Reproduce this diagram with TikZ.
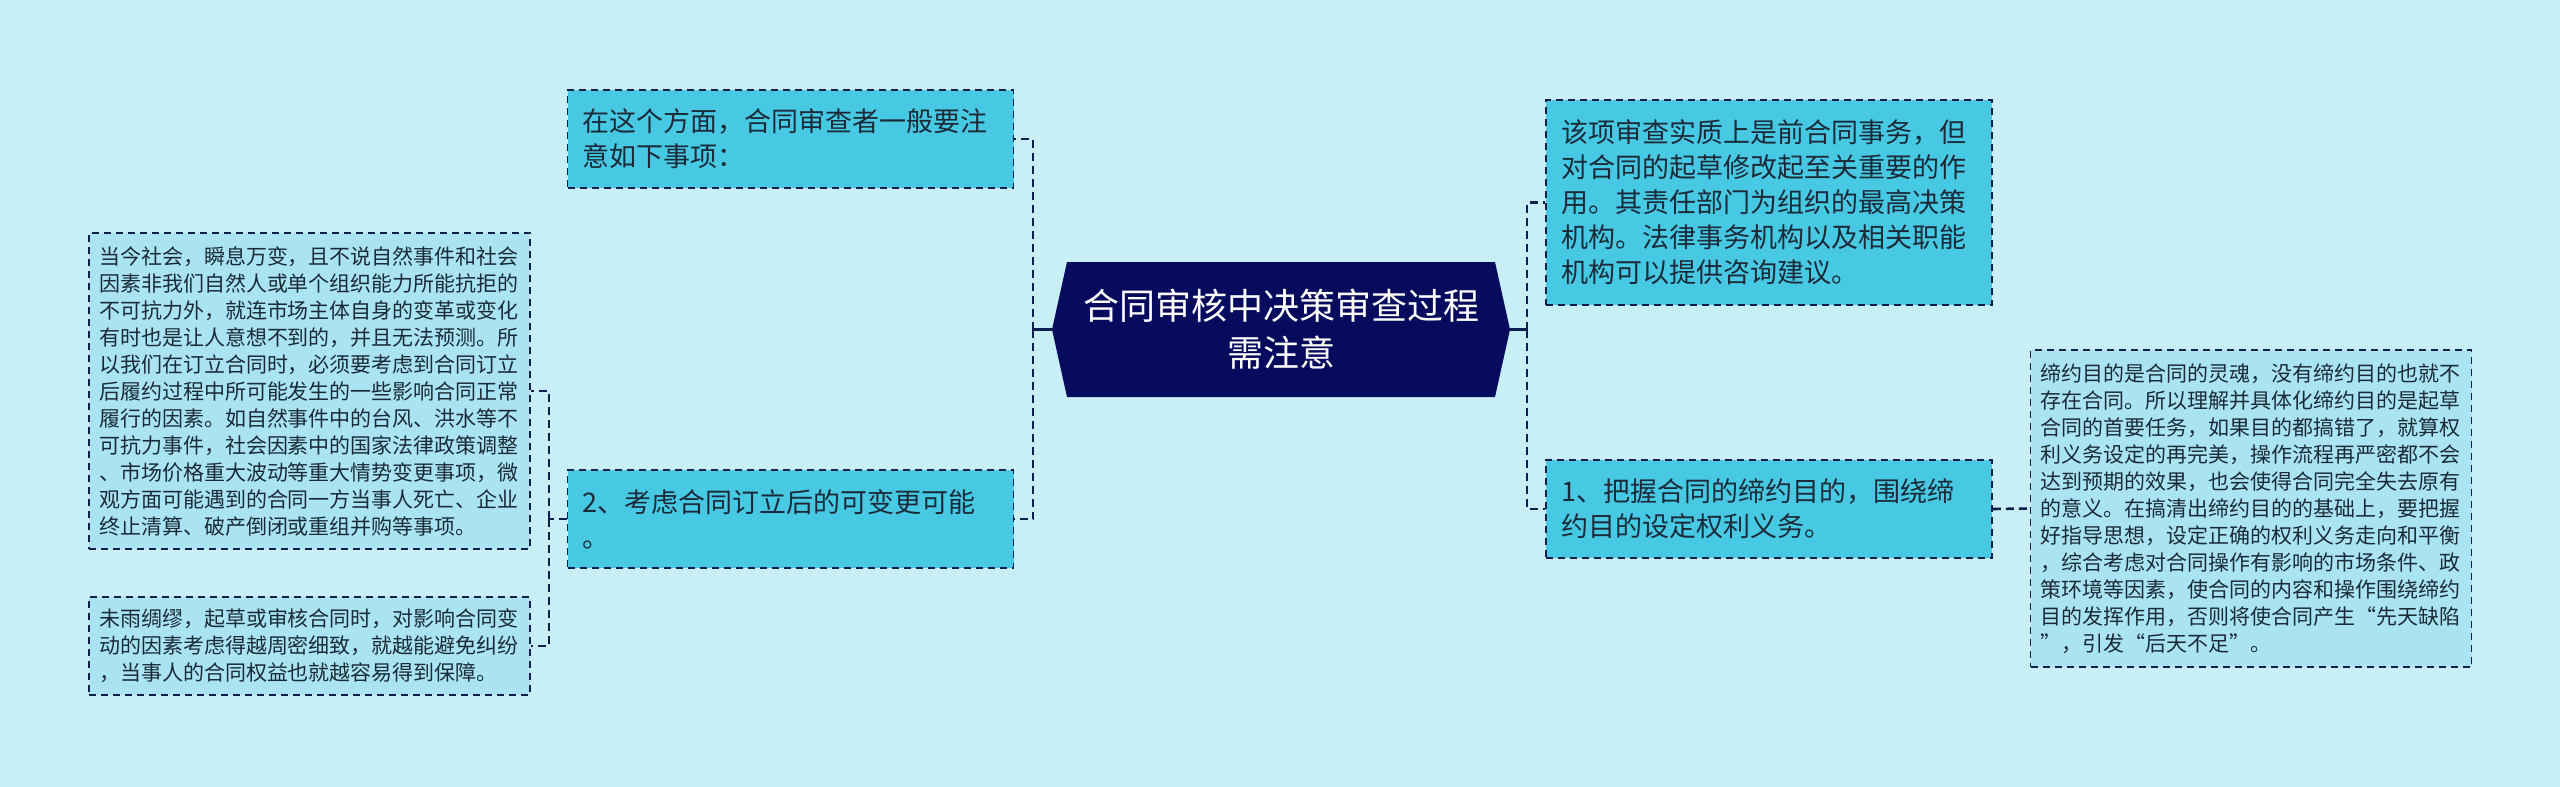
\documentclass[tikz,border=0pt]{standalone}
\usepackage{fontspec}
\setmainfont{Noto Sans CJK SC}
\definecolor{bg}{HTML}{C9EFF6}
\definecolor{navy}{HTML}{070B5E}
\definecolor{edge}{HTML}{0F1E4E}
\definecolor{lvone}{HTML}{48C9E3}
\definecolor{lvtwo}{HTML}{AAE4F2}
\definecolor{txt}{HTML}{1B2A38}
\begin{document}
\begin{tikzpicture}[x=1pt,y=-1pt,
  boxbase/.style={draw=edge, line width=1.6pt, dash pattern=on 7pt off 5pt, text=txt, align=left, inner ysep=0pt, anchor=center},
  lvonebox/.style={boxbase, fill=lvone, font=\fontsize{27}{35}\selectfont, text width=416pt, inner xsep=15pt},
  lvtwobox/.style={boxbase, fill=lvtwo, font=\fontsize{21}{27}\selectfont, text width=421pt, inner xsep=10pt},
  link/.style={draw=edge, line width=2.6pt, dash pattern=on 8pt off 5pt},
  solidlink/.style={draw=edge, line width=2.6pt},
  centertext/.style={text=white, font=\fontsize{36}{47}\selectfont, align=center, inner sep=0pt}]
\fill[bg] (0,0) rectangle (2560,787);
\useasboundingbox (0,0) rectangle (2560,787);
% central hexagon
\fill[navy] (1052,329.5) -- (1067,262) -- (1495,262) -- (1510,329.5) -- (1495,397) -- (1067,397) -- cycle;
\node[centertext] (center) at (1281,329.5) {合同审核中决策审查过程\\需注意};
\coordinate (tipL) at (1052,329.5);
\coordinate (tipR) at (1510,329.5);
\coordinate (hubL) at (1033,329.5);
\coordinate (hubR) at (1527,329.5);
\coordinate (hubLL) at (549,519);
% left level one
\node[lvonebox, minimum height=98pt] (L1a) at (790.5,139) {在这个方面，合同审查者一般要注\\意如下事项：};
\node[lvonebox, minimum height=98pt] (L1b) at (790.5,519) {2、考虑合同订立后的可变更可能\\。};
% left leaves
\node[lvtwobox, minimum height=316pt] (leafA) at (309.5,391) {当今社会，瞬息万变，且不说自然事件和社会\\因素非我们自然人或单个组织能力所能抗拒的\\不可抗力外，就连市场主体自身的变革或变化\\有时也是让人意想不到的，并且无法预测。所\\以我们在订立合同时，必须要考虑到合同订立\\后履约过程中所可能发生的一些影响合同正常\\履行的因素。如自然事件中的台风、洪水等不\\可抗力事件，社会因素中的国家法律政策调整\\、市场价格重大波动等重大情势变更事项，微\\观方面可能遇到的合同一方当事人死亡、企业\\终止清算、破产倒闭或重组并购等事项。};
\node[lvtwobox, minimum height=98pt] (leafB) at (309.5,646) {未雨绸缪，起草或审核合同时，对影响合同变\\动的因素考虑得越周密细致，就越能避免纠纷\\，当事人的合同权益也就越容易得到保障。};
% right level one
\node[lvonebox, minimum height=205pt] (R1) at (1769,202.5) {该项审查实质上是前合同事务，但\\对合同的起草修改起至关重要的作\\用。其责任部门为组织的最高决策\\机构。法律事务机构以及相关职能\\机构可以提供咨询建议。};
\node[lvonebox, minimum height=98pt] (R2) at (1769,509) {1、把握合同的缔约目的，围绕缔\\约目的设定权利义务。};
% right leaf
\node[lvtwobox, minimum height=317pt] (leafR) at (2251,508.5) {缔约目的是合同的灵魂，没有缔约目的也就不\\存在合同。所以理解并具体化缔约目的是起草\\合同的首要任务，如果目的都搞错了，就算权\\利义务设定的再完美，操作流程再严密都不会\\达到预期的效果，也会使得合同完全失去原有\\的意义。在搞清出缔约目的的基础上，要把握\\好指导思想，设定正确的权利义务走向和平衡\\，综合考虑对合同操作有影响的市场条件、政\\策环境等因素，使合同的内容和操作围绕缔约\\目的发挥作用，否则将使合同产生“先天缺陷\\”，引发“后天不足”。};
% connectors
\draw[solidlink] (tipL) -- (hubL);
\draw[link] (hubL) |- (L1a.east);
\draw[link] (hubL) |- (L1b.east);
\draw[solidlink] (tipR) -- (hubR);
\draw[link] (hubR) |- (R1.west);
\draw[link] (hubR) |- (R2.west);
\draw[link] (L1b.west) -- (hubLL);
\draw[link] (hubLL) |- (leafA.east);
\draw[link] (hubLL) |- (leafB.east);
\draw[link] (R2.east) -- (leafR.west);
\end{tikzpicture}
\end{document}
